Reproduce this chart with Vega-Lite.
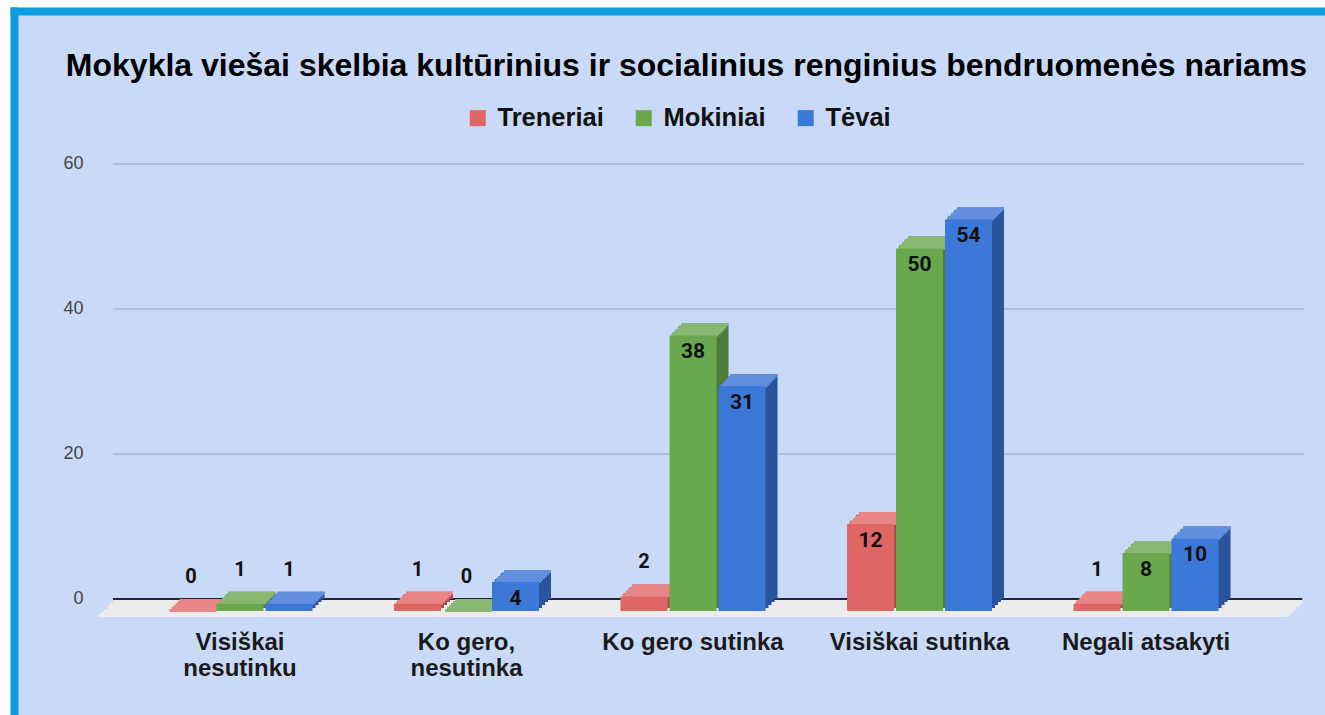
{
  "$schema": "https://vega.github.io/schema/vega-lite/v6.json",
  "width": 1311,
  "height": 704,
  "autosize": {"type": "none"},
  "padding": {"left": 14, "top": 11, "right": 0, "bottom": 0},
  "background": "#ffffff",
  "config": {"view": {"fill": "#c9daf8", "stroke": null}, "font": "Liberation Sans"},
  "title": {
    "text": "Mokykla viešai skelbia kultūrinius ir socialinius renginius bendruomenės nariams",
    "font": "Liberation Sans",
    "fontSize": 32,
    "fontWeight": "bold",
    "color": "#000000",
    "anchor": "middle",
    "offset": -72,
    "dx": 17
  },
  "datasets": {
    "answers": [
      {"cat": "Visiškai nesutinku", "series": "Treneriai", "value": 0},
      {"cat": "Visiškai nesutinku", "series": "Mokiniai", "value": 1},
      {"cat": "Visiškai nesutinku", "series": "Tėvai", "value": 1},
      {"cat": "Ko gero, nesutinka", "series": "Treneriai", "value": 1},
      {"cat": "Ko gero, nesutinka", "series": "Mokiniai", "value": 0},
      {"cat": "Ko gero, nesutinka", "series": "Tėvai", "value": 4},
      {"cat": "Ko gero sutinka", "series": "Treneriai", "value": 2},
      {"cat": "Ko gero sutinka", "series": "Mokiniai", "value": 38},
      {"cat": "Ko gero sutinka", "series": "Tėvai", "value": 31},
      {"cat": "Visiškai sutinka", "series": "Treneriai", "value": 12},
      {"cat": "Visiškai sutinka", "series": "Mokiniai", "value": 50},
      {"cat": "Visiškai sutinka", "series": "Tėvai", "value": 54},
      {"cat": "Negali atsakyti", "series": "Treneriai", "value": 1},
      {"cat": "Negali atsakyti", "series": "Mokiniai", "value": 8},
      {"cat": "Negali atsakyti", "series": "Tėvai", "value": 10}
    ],
    "base": [{"tick": 0}],
    "grid": [{"tick": 20}, {"tick": 40}, {"tick": 60}]
  },
  "resolve": {
    "scale": {"xOffset": "independent", "color": "independent"},
    "axis": {"x": "independent", "y": "independent"}
  },
  "layer": [
    {
      "data": {"name": "base"},
      "mark": {"type": "rect", "color": "#ececec", "xOffset": -25.8, "x2Offset": 31, "yOffset": 1, "y2Offset": 5},
      "encoding": {
        "x": {"datum": "Visiškai nesutinku", "type": "nominal", "bandPosition": 0,
          "scale": {"domain": ["Visiškai nesutinku", "Ko gero, nesutinka", "Ko gero sutinka", "Visiškai sutinka", "Negali atsakyti"], "paddingInner": 0, "paddingOuter": 0.394, "align": 0.699},
          "axis": {"orient": "top", "title": null, "labels": false, "ticks": false, "grid": false, "domain": true, "domainColor": "#0b9de0", "domainWidth": 8, "domainCap": "square"}},
        "x2": {"datum": "Negali atsakyti", "bandPosition": 1},
        "y": {"datum": 0, "type": "quantitative",
          "scale": {"domain": [-16, 81.103], "nice": false, "zero": false},
          "axis": {"orient": "left", "title": null, "labels": false, "ticks": false, "grid": false, "domain": true, "domainColor": "#0b9de0", "domainWidth": 8, "domainCap": "square"}},
        "y2": {"datum": 0}
      }
    },
    {
      "data": {"name": "base"},
      "mark": {"type": "rect", "color": "#ececec", "xOffset": -28.8, "x2Offset": 28, "yOffset": 4, "y2Offset": 8},
      "encoding": {
        "x": {"datum": "Visiškai nesutinku", "type": "nominal", "bandPosition": 0, "axis": null},
        "x2": {"datum": "Negali atsakyti", "bandPosition": 1},
        "y": {"datum": 0, "type": "quantitative", "axis": null},
        "y2": {"datum": 0}
      }
    },
    {
      "data": {"name": "base"},
      "mark": {"type": "rect", "color": "#ececec", "xOffset": -31.8, "x2Offset": 25, "yOffset": 7, "y2Offset": 11},
      "encoding": {
        "x": {"datum": "Visiškai nesutinku", "type": "nominal", "bandPosition": 0, "axis": null},
        "x2": {"datum": "Negali atsakyti", "bandPosition": 1},
        "y": {"datum": 0, "type": "quantitative", "axis": null},
        "y2": {"datum": 0}
      }
    },
    {
      "data": {"name": "base"},
      "mark": {"type": "rect", "color": "#ececec", "xOffset": -34.8, "x2Offset": 22, "yOffset": 10, "y2Offset": 14},
      "encoding": {
        "x": {"datum": "Visiškai nesutinku", "type": "nominal", "bandPosition": 0, "axis": null},
        "x2": {"datum": "Negali atsakyti", "bandPosition": 1},
        "y": {"datum": 0, "type": "quantitative", "axis": null},
        "y2": {"datum": 0}
      }
    },
    {
      "data": {"name": "base"},
      "mark": {"type": "rect", "color": "#ececec", "xOffset": -37.8, "x2Offset": 19, "yOffset": 13, "y2Offset": 17},
      "encoding": {
        "x": {"datum": "Visiškai nesutinku", "type": "nominal", "bandPosition": 0, "axis": null},
        "x2": {"datum": "Negali atsakyti", "bandPosition": 1},
        "y": {"datum": 0, "type": "quantitative", "axis": null},
        "y2": {"datum": 0}
      }
    },
    {
      "data": {"name": "base"},
      "mark": {"type": "rect", "color": "#ececec", "xOffset": -40.8, "x2Offset": 16, "yOffset": 16, "y2Offset": 18},
      "encoding": {
        "x": {"datum": "Visiškai nesutinku", "type": "nominal", "bandPosition": 0, "axis": null},
        "x2": {"datum": "Negali atsakyti", "bandPosition": 1},
        "y": {"datum": 0, "type": "quantitative", "axis": null},
        "y2": {"datum": 0}
      }
    },
    {
      "data": {"name": "grid"},
      "mark": {"type": "rule", "color": "#94a3bd", "strokeWidth": 1, "xOffset": -25.8, "x2Offset": 33},
      "encoding": {
        "x": {"datum": "Visiškai nesutinku", "type": "nominal", "bandPosition": 0, "axis": null},
        "x2": {"datum": "Negali atsakyti", "bandPosition": 1},
        "y": {"field": "tick", "type": "quantitative",
          "axis": {"orient": "left", "values": [0, 20, 40, 60], "title": null, "domain": false, "ticks": false, "grid": false, "offset": -69, "labelPadding": 0, "labelFont": "Liberation Sans", "labelFontSize": 18, "labelColor": "#444444"}}
      }
    },
    {
      "data": {"name": "base"},
      "mark": {"type": "rule", "color": "#1e2633", "strokeWidth": 2, "xOffset": -25.8, "x2Offset": 31},
      "encoding": {
        "x": {"datum": "Visiškai nesutinku", "type": "nominal", "bandPosition": 0, "axis": null},
        "x2": {"datum": "Negali atsakyti", "bandPosition": 1},
        "y": {"field": "tick", "type": "quantitative", "axis": null}
      }
    },
    {
      "data": {"name": "answers"},
      "mark": {"type": "bar", "yOffset": 0, "y2Offset": 0},
      "encoding": {
        "x": {"field": "cat", "type": "nominal", "sort": null, "axis": null},
        "xOffset": {"field": "series", "type": "nominal", "scale": {"domain": ["Treneriai", "Mokiniai", "Tėvai"], "range": [40.75, 185.75], "paddingInner": 0.0408, "paddingOuter": 0}},
        "y": {"field": "value", "type": "quantitative", "axis": null},
        "y2": {"datum": 0},
        "color": {"field": "series", "type": "nominal", "scale": {"domain": ["Treneriai", "Mokiniai", "Tėvai"], "range": ["#a84c4c", "#4d7b39", "#2a549c"]}, "legend": null}
      }
    },
    {
      "data": {"name": "answers"},
      "mark": {"type": "bar", "yOffset": 3, "y2Offset": 3},
      "encoding": {
        "x": {"field": "cat", "type": "nominal", "sort": null, "axis": null},
        "xOffset": {"field": "series", "type": "nominal", "scale": {"domain": ["Treneriai", "Mokiniai", "Tėvai"], "range": [37.75, 182.75], "paddingInner": 0.0408, "paddingOuter": 0}},
        "y": {"field": "value", "type": "quantitative", "axis": null},
        "y2": {"datum": 0},
        "color": {"field": "series", "type": "nominal", "scale": {"domain": ["Treneriai", "Mokiniai", "Tėvai"], "range": ["#a84c4c", "#4d7b39", "#2a549c"]}, "legend": null}
      }
    },
    {
      "data": {"name": "answers"},
      "mark": {"type": "bar", "yOffset": 6, "y2Offset": 6},
      "encoding": {
        "x": {"field": "cat", "type": "nominal", "sort": null, "axis": null},
        "xOffset": {"field": "series", "type": "nominal", "scale": {"domain": ["Treneriai", "Mokiniai", "Tėvai"], "range": [34.75, 179.75], "paddingInner": 0.0408, "paddingOuter": 0}},
        "y": {"field": "value", "type": "quantitative", "axis": null},
        "y2": {"datum": 0},
        "color": {"field": "series", "type": "nominal", "scale": {"domain": ["Treneriai", "Mokiniai", "Tėvai"], "range": ["#a84c4c", "#4d7b39", "#2a549c"]}, "legend": null}
      }
    },
    {
      "data": {"name": "answers"},
      "mark": {"type": "bar", "yOffset": 9, "y2Offset": 9},
      "encoding": {
        "x": {"field": "cat", "type": "nominal", "sort": null, "axis": null},
        "xOffset": {"field": "series", "type": "nominal", "scale": {"domain": ["Treneriai", "Mokiniai", "Tėvai"], "range": [31.75, 176.75], "paddingInner": 0.0408, "paddingOuter": 0}},
        "y": {"field": "value", "type": "quantitative", "axis": null},
        "y2": {"datum": 0},
        "color": {"field": "series", "type": "nominal", "scale": {"domain": ["Treneriai", "Mokiniai", "Tėvai"], "range": ["#a84c4c", "#4d7b39", "#2a549c"]}, "legend": null}
      }
    },
    {
      "data": {"name": "answers"},
      "mark": {"type": "bar", "yOffset": 0, "y2Offset": 3},
      "encoding": {
        "x": {"field": "cat", "type": "nominal", "sort": null, "axis": null},
        "xOffset": {"field": "series", "type": "nominal", "scale": {"domain": ["Treneriai", "Mokiniai", "Tėvai"], "range": [40.75, 185.75], "paddingInner": 0.0408, "paddingOuter": 0}},
        "y": {"field": "value", "type": "quantitative", "axis": null},
        "y2": {"field": "value"},
        "color": {"field": "series", "type": "nominal", "scale": {"domain": ["Treneriai", "Mokiniai", "Tėvai"], "range": ["#e88585", "#88b871", "#628fe0"]}, "legend": null}
      }
    },
    {
      "data": {"name": "answers"},
      "mark": {"type": "bar", "yOffset": 2, "y2Offset": 5},
      "encoding": {
        "x": {"field": "cat", "type": "nominal", "sort": null, "axis": null},
        "xOffset": {"field": "series", "type": "nominal", "scale": {"domain": ["Treneriai", "Mokiniai", "Tėvai"], "range": [38.75, 183.75], "paddingInner": 0.0408, "paddingOuter": 0}},
        "y": {"field": "value", "type": "quantitative", "axis": null},
        "y2": {"field": "value"},
        "color": {"field": "series", "type": "nominal", "scale": {"domain": ["Treneriai", "Mokiniai", "Tėvai"], "range": ["#e88585", "#88b871", "#628fe0"]}, "legend": null}
      }
    },
    {
      "data": {"name": "answers"},
      "mark": {"type": "bar", "yOffset": 4, "y2Offset": 7},
      "encoding": {
        "x": {"field": "cat", "type": "nominal", "sort": null, "axis": null},
        "xOffset": {"field": "series", "type": "nominal", "scale": {"domain": ["Treneriai", "Mokiniai", "Tėvai"], "range": [36.75, 181.75], "paddingInner": 0.0408, "paddingOuter": 0}},
        "y": {"field": "value", "type": "quantitative", "axis": null},
        "y2": {"field": "value"},
        "color": {"field": "series", "type": "nominal", "scale": {"domain": ["Treneriai", "Mokiniai", "Tėvai"], "range": ["#e88585", "#88b871", "#628fe0"]}, "legend": null}
      }
    },
    {
      "data": {"name": "answers"},
      "mark": {"type": "bar", "yOffset": 6, "y2Offset": 9},
      "encoding": {
        "x": {"field": "cat", "type": "nominal", "sort": null, "axis": null},
        "xOffset": {"field": "series", "type": "nominal", "scale": {"domain": ["Treneriai", "Mokiniai", "Tėvai"], "range": [34.75, 179.75], "paddingInner": 0.0408, "paddingOuter": 0}},
        "y": {"field": "value", "type": "quantitative", "axis": null},
        "y2": {"field": "value"},
        "color": {"field": "series", "type": "nominal", "scale": {"domain": ["Treneriai", "Mokiniai", "Tėvai"], "range": ["#e88585", "#88b871", "#628fe0"]}, "legend": null}
      }
    },
    {
      "data": {"name": "answers"},
      "mark": {"type": "bar", "yOffset": 8, "y2Offset": 11},
      "encoding": {
        "x": {"field": "cat", "type": "nominal", "sort": null, "axis": null},
        "xOffset": {"field": "series", "type": "nominal", "scale": {"domain": ["Treneriai", "Mokiniai", "Tėvai"], "range": [32.75, 177.75], "paddingInner": 0.0408, "paddingOuter": 0}},
        "y": {"field": "value", "type": "quantitative", "axis": null},
        "y2": {"field": "value"},
        "color": {"field": "series", "type": "nominal", "scale": {"domain": ["Treneriai", "Mokiniai", "Tėvai"], "range": ["#e88585", "#88b871", "#628fe0"]}, "legend": null}
      }
    },
    {
      "data": {"name": "answers"},
      "mark": {"type": "bar", "yOffset": 10, "y2Offset": 13},
      "encoding": {
        "x": {"field": "cat", "type": "nominal", "sort": null, "axis": null},
        "xOffset": {"field": "series", "type": "nominal", "scale": {"domain": ["Treneriai", "Mokiniai", "Tėvai"], "range": [30.75, 175.75], "paddingInner": 0.0408, "paddingOuter": 0}},
        "y": {"field": "value", "type": "quantitative", "axis": null},
        "y2": {"field": "value"},
        "color": {"field": "series", "type": "nominal", "scale": {"domain": ["Treneriai", "Mokiniai", "Tėvai"], "range": ["#e88585", "#88b871", "#628fe0"]}, "legend": null}
      }
    },
    {
      "data": {"name": "answers"},
      "mark": {"type": "bar", "yOffset": 12, "y2Offset": 12},
      "encoding": {
        "x": {"field": "cat", "type": "nominal", "sort": null,
          "axis": {"orient": "bottom", "title": null, "domain": false, "ticks": false, "grid": false, "offset": -89, "labelOffset": -12, "labelPadding": 4, "labelAngle": 0, "labelLimit": 400, "labelOverlap": false, "labelFont": "Liberation Sans", "labelFontWeight": "bold", "labelFontSize": 24, "labelLineHeight": 26, "labelColor": "#1a1a1a",
            "labelExpr": "datum.value == 'Visiškai nesutinku' ? ['Visiškai', 'nesutinku'] : datum.value == 'Ko gero, nesutinka' ? ['Ko gero,', 'nesutinka'] : datum.value"}},
        "xOffset": {"field": "series", "type": "nominal", "scale": {"domain": ["Treneriai", "Mokiniai", "Tėvai"], "range": [28.75, 173.75], "paddingInner": 0.0408, "paddingOuter": 0}},
        "y": {"field": "value", "type": "quantitative", "axis": null},
        "y2": {"datum": 0},
        "color": {"field": "series", "type": "nominal", "scale": {"domain": ["Treneriai", "Mokiniai", "Tėvai"], "range": ["#e06666", "#6aa84f", "#3c78d8"]},
          "legend": {"title": null, "orient": "none", "legendX": 451, "legendY": 94, "direction": "horizontal", "padding": 0, "symbolType": "square", "symbolSize": 256, "symbolStrokeWidth": 0, "labelFont": "Liberation Sans", "labelFontWeight": "bold", "labelFontSize": 25.5, "labelColor": "#111111", "labelOffset": 7, "columnPadding": 27}}
      }
    },
    {
      "data": {"name": "answers"},
      "transform": [{"filter": "datum.value >= 4"}],
      "mark": {"type": "text", "dy": 29, "baseline": "middle", "align": "center", "font": "Roboto", "fontWeight": "bold", "fontSize": 21, "color": "#111111"},
      "encoding": {
        "x": {"field": "cat", "type": "nominal", "sort": null, "axis": null},
        "xOffset": {"field": "series", "type": "nominal", "scale": {"type": "point", "domain": ["Treneriai", "Mokiniai", "Tėvai"], "range": [52.25, 150.25], "padding": 0}},
        "y": {"field": "value", "type": "quantitative", "axis": null},
        "text": {"field": "value", "type": "quantitative"}
      }
    },
    {
      "data": {"name": "answers"},
      "transform": [{"filter": "datum.value < 4"}],
      "mark": {"type": "text", "dy": -22, "baseline": "middle", "align": "center", "font": "Roboto", "fontWeight": "bold", "fontSize": 20, "color": "#111111"},
      "encoding": {
        "x": {"field": "cat", "type": "nominal", "sort": null, "axis": null},
        "xOffset": {"field": "series", "type": "nominal", "scale": {"type": "point", "domain": ["Treneriai", "Mokiniai", "Tėvai"], "range": [52.25, 150.25], "padding": 0}},
        "y": {"field": "value", "type": "quantitative", "axis": null},
        "text": {"field": "value", "type": "quantitative"}
      }
    }
  ]
}
